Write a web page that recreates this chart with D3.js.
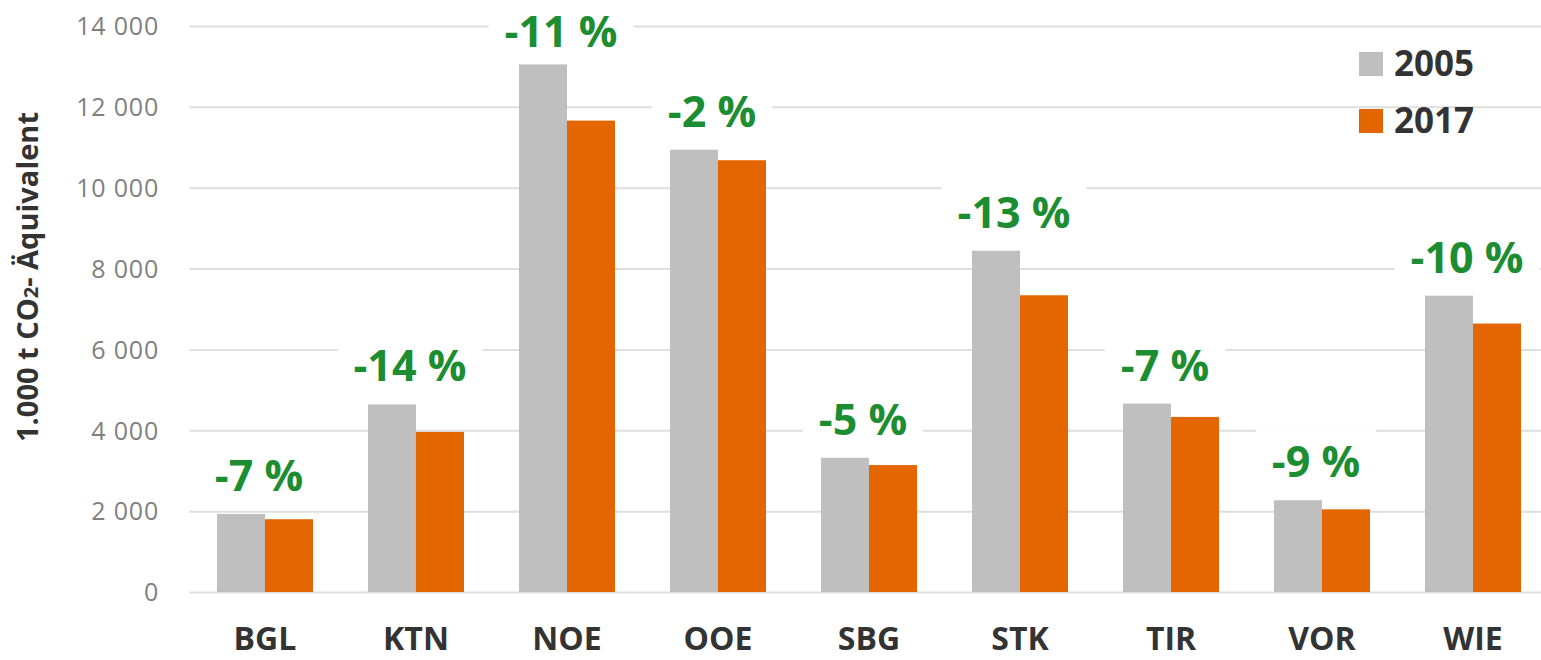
<!DOCTYPE html>
<html>
<head>
<meta charset="utf-8">
<script src="https://cdn.jsdelivr.net/npm/d3@7"></script>
<style>
  html, body { margin: 0; padding: 0; background: #fff; }
  svg { display: block; }
</style>
</head>
<body>
<svg id="chart" width="1541" height="660"></svg>
<script>
// ---- data ----
const categories = ["BGL", "KTN", "NOE", "OOE", "SBG", "STK", "TIR", "VOR", "WIE"];
const seriesNames = ["2005", "2017"];
const values2005 = [1930, 4640, 13050, 10940, 3320, 8440, 4660, 2270, 7330];
const values2017 = [1800, 3960, 11660, 10680, 3140, 7340, 4330, 2045, 6640];
const changeLabels = ["-7 %", "-14 %", "-11 %", "-2 %", "-5 %", "-13 %", "-7 %", "-9 %", "-10 %"];
const yTicks = [0, 2000, 4000, 6000, 8000, 10000, 12000, 14000];

// ---- layout / style ----
const colors = { "2005": "#BFBFBF", "2017": "#E36600" };
const green = "#1C8D31";
const W = 1541, H = 660;
const plotLeft = 189.5, plotRight = 1548.5, plotTop = 26, plotBottom = 592;

const svg = d3.select("#chart");

const x0 = d3.scaleBand().domain(categories).range([plotLeft, plotRight])
  .paddingInner(0.3642).paddingOuter(0.182);
const x1 = d3.scaleBand().domain(seriesNames).range([0, x0.bandwidth()]).padding(0);
const y = d3.scaleLinear().domain([0, 14000]).range([plotBottom, plotTop]);

// gridlines
const yAxis = d3.axisLeft(y).tickValues(yTicks).tickSize(-(plotRight - plotLeft)).tickPadding(30)
  .tickFormat(d => d3.format(",")(d).replace(/,/g, " "));
const gY = svg.append("g").attr("transform", `translate(${plotLeft},0)`).call(yAxis);
gY.select(".domain").remove();
gY.selectAll(".tick line").attr("stroke", "#DEDEDE").attr("stroke-width", 2);
gY.selectAll(".tick text")
  .attr("x", 159 - plotLeft)
  .attr("fill", "#7F7F7F")
  .style("font-family", "'Open Sans', sans-serif")
  .style("font-size", "25px")
  .style("letter-spacing", "0.8px")
  .attr("dy", "0.35em");

// bars
const rows = categories.map((c, i) => ({ cat: c, vals: [
  { key: "2005", v: values2005[i] }, { key: "2017", v: values2017[i] }] }));

const groups = svg.append("g").selectAll("g").data(rows).join("g")
  .attr("transform", d => `translate(${x0(d.cat)},0)`);
groups.selectAll("rect").data(d => d.vals).join("rect")
  .attr("x", d => x1(d.key))
  .attr("width", x1.bandwidth())
  .attr("y", d => y(d.v))
  .attr("height", d => y(0) - y(d.v))
  .attr("fill", d => colors[d.key]);

// x axis labels
const xAxis = d3.axisBottom(x0).tickSize(0).tickPadding(0);
const gX = svg.append("g").attr("transform", `translate(0,${plotBottom})`).call(xAxis);
gX.select(".domain").remove();
gX.selectAll(".tick text")
  .attr("y", 58).attr("dy", 0)
  .attr("fill", "#333333")
  .style("font-family", "'Open Sans', sans-serif")
  .style("font-size", "32px")
  .style("font-weight", "700");

// percentage labels with white boxes
const lbl = svg.append("g").selectAll("g").data(rows).join("g")
  .attr("transform", (d, i) => `translate(${x0(d.cat) + x0.bandwidth() / 2 - 6},${Math.max(y(values2005[i]) - 23, 47)})`);
lbl.append("text")
  .attr("text-anchor", "middle")
  .attr("fill", green)
  .style("font-family", "'Open Sans', sans-serif")
  .style("font-size", "43px")
  .style("font-weight", "700")
  .text((d, i) => changeLabels[i]);
lbl.each(function () {
  const g = d3.select(this);
  const t = g.select("text").node();
  const w = t.getComputedTextLength();
  g.insert("rect", "text")
    .attr("x", -w / 2 - 16).attr("width", w + 32)
    .attr("y", -48).attr("height", 58)
    .attr("fill", "#fff");
});

// legend
const legend = svg.append("g").selectAll("g").data(seriesNames).join("g")
  .attr("transform", (d, i) => `translate(1359,${52 + i * 57})`);
legend.append("rect").attr("width", 24).attr("height", 24).attr("fill", d => colors[d]);
legend.append("text")
  .attr("x", 35).attr("y", 24)
  .attr("fill", "#333333")
  .style("font-family", "'Open Sans', sans-serif")
  .style("font-size", "35px")
  .style("font-weight", "700")
  .text(d => d);

// y axis title
const title = svg.append("text")
  .attr("transform", "translate(38,277) rotate(-90)")
  .attr("text-anchor", "middle")
  .attr("fill", "#333333")
  .style("font-family", "'Open Sans', sans-serif")
  .style("font-size", "29px")
  .style("font-weight", "700");
title.append("tspan").text("1.000 t CO");
title.append("tspan").style("font-size", "20px").attr("dy", 0).text("2");
title.append("tspan").text("- Äquivalent");
</script>
</body>
</html>
